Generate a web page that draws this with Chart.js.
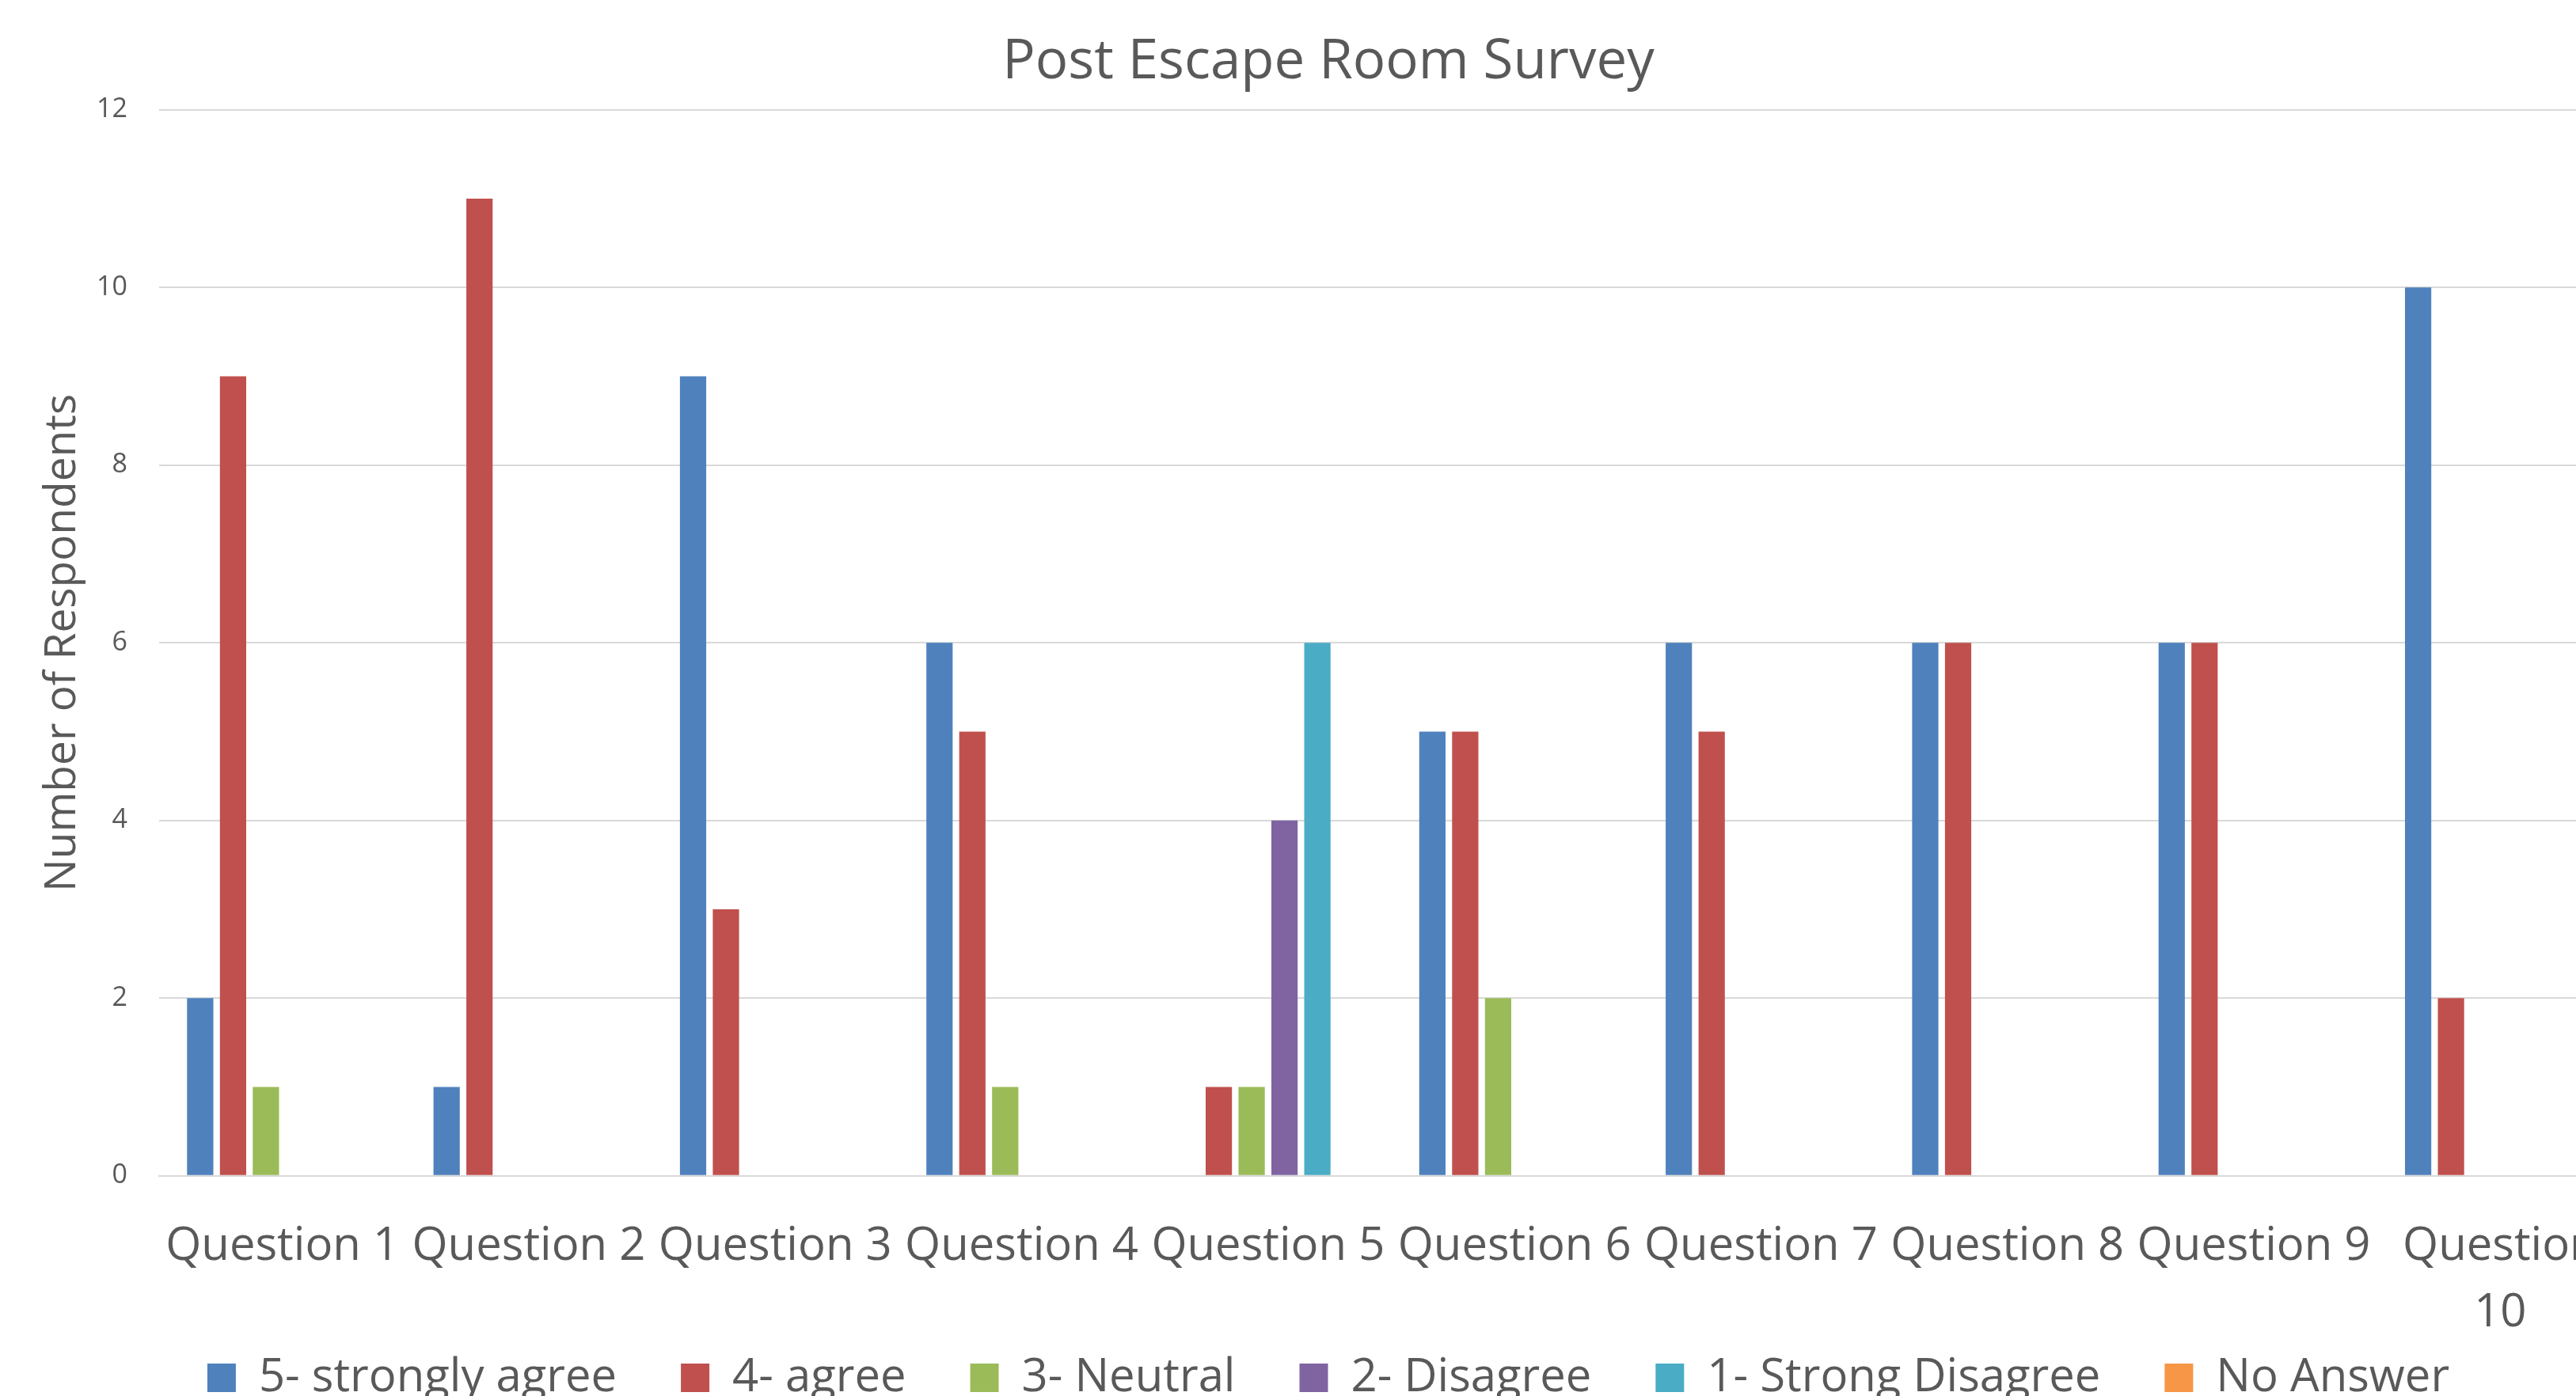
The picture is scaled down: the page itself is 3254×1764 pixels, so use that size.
<!DOCTYPE html>
<html>
<head>
<meta charset="utf-8">
<title>Post Escape Room Survey</title>
<script src="https://cdn.jsdelivr.net/npm/chart.js@4.4.1/dist/chart.umd.min.js"></script>
<style>
    html, body { margin: 0; padding: 0; background: #ffffff; overflow: hidden; }
    /* chart is a bit wider/taller than the window, the original is cropped right + bottom */
    #chart-wrap { position: relative; width: 3345px; height: 1899px; }
</style>
</head>
<body>
<div id="chart-wrap"><canvas id="surveyChart"></canvas></div>
<script>
// Survey data
const questions = ['Question 1', 'Question 2', 'Question 3', 'Question 4', 'Question 5',
                   'Question 6', 'Question 7', 'Question 8', 'Question 9', ['Question', '10']];
const stronglyAgree = [2, 1, 9, 6, 0, 5, 6, 6, 6, 10];
const agree         = [9, 11, 3, 5, 1, 5, 5, 6, 6, 2];
const neutral       = [1, 0, 0, 1, 1, 2, 0, 0, 0, 0];
const disagree      = [0, 0, 0, 0, 4, 0, 0, 0, 0, 0];
const strongDisagree = [0, 0, 0, 0, 6, 0, 0, 0, 0, 0];
const noAnswer      = [0, 0, 0, 0, 0, 0, 0, 0, 0, 0];
const yTicks = [0, 2, 4, 6, 8, 10, 12];

const textColor = '#595959';
const gridColor = '#D9D9D9';
const fontFamily = '"Open Sans", "DejaVu Sans", sans-serif';

// legend padding is used for both the gap between items and its height,
// so pull the legend up closer to the axis labels after layout
const legendLift = {
    id: 'legendLift',
    afterLayout(chart) {
        const lg = chart.legend;
        if (!lg) return;
        lg.top -= 119;
        lg.bottom -= 119;
    }
};

document.addEventListener('DOMContentLoaded', function() {
    renderSurveyChart();
});

function makeSet(label, data, color) {
    return {
        label: label,
        data: data,
        backgroundColor: color,
        borderWidth: 0,
        barPercentage: 0.8,
        categoryPercentage: 0.8
    };
}

function renderSurveyChart() {
    new Chart(document.getElementById('surveyChart'), {
        type: 'bar',
        data: {
            labels: questions,
            datasets: [
                makeSet('5- strongly agree', stronglyAgree, '#4F81BD'),
                makeSet('4- agree', agree, '#C0504D'),
                makeSet('3- Neutral', neutral, '#9BBB59'),
                makeSet('2- Disagree', disagree, '#8064A2'),
                makeSet('1- Strong Disagree', strongDisagree, '#4BACC6'),
                makeSet('No Answer', noAnswer, '#F79646')
            ]
        },
        plugins: [legendLift],
        options: {
            responsive: true,
            maintainAspectRatio: false,
            animation: false,
            layout: { padding: { left: 42, right: 31, top: 0, bottom: 0 } },
            plugins: {
                title: {
                    display: true,
                    text: 'Post Escape Room Survey',
                    color: textColor,
                    font: { family: fontFamily, size: 69, weight: 'normal', lineHeight: 1.2 },
                    padding: { top: 38, bottom: 18 }
                },
                legend: {
                    position: 'bottom',
                    labels: {
                        color: textColor,
                        boxWidth: 36,
                        boxHeight: 36,
                        padding: 81,
                        font: { family: fontFamily, size: 58 }
                    }
                },
                tooltip: { enabled: false }
            },
            scales: {
                x: {
                    grid: { display: false, drawTicks: false },
                    border: { display: true, color: gridColor, width: 2 },
                    ticks: {
                        color: textColor,
                        autoSkip: false,
                        maxRotation: 0,
                        minRotation: 0,
                        padding: 48,
                        font: { family: fontFamily, size: 58, lineHeight: 1.45 }
                    }
                },
                y: {
                    min: 0,
                    max: 12,
                    afterBuildTicks: function(scale) {
                        scale.ticks = yTicks.map(v => ({ value: v }));
                    },
                    grid: { color: gridColor, lineWidth: 2, drawTicks: false },
                    border: { display: false },
                    ticks: {
                        color: textColor,
                        padding: 40,
                        font: { family: fontFamily, size: 34 }
                    },
                    title: {
                        display: true,
                        text: 'Number of Respondents',
                        color: textColor,
                        font: { family: fontFamily, size: 55, lineHeight: 1.2 },
                        padding: { top: 4, bottom: 4 }
                    },
                    afterFit: function(scale) { scale.width = 159; }
                }
            }
        }
    });
}
</script>
</body>
</html>
